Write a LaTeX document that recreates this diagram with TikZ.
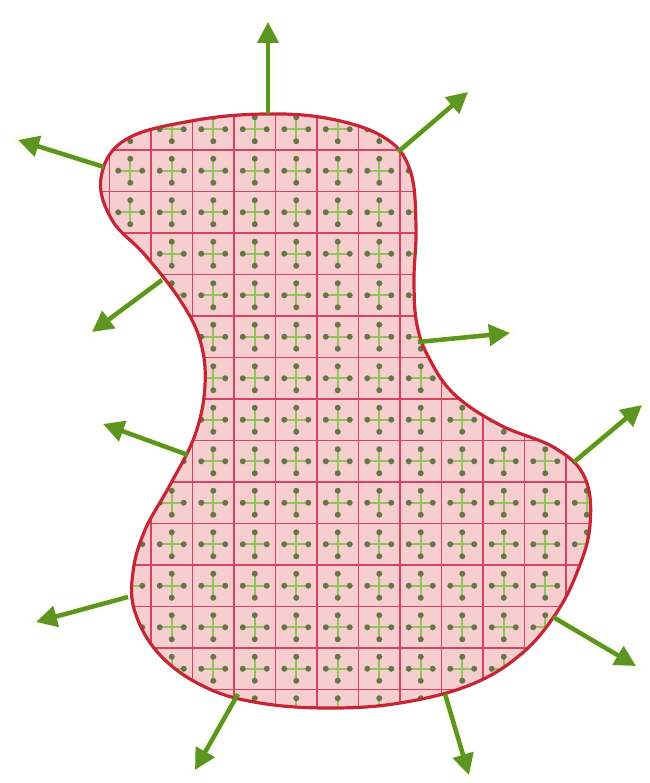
\documentclass[tikz,border=0pt]{standalone}
\usetikzlibrary{arrows.meta}

\definecolor{blobfill}{RGB}{247,206,208}
\definecolor{blobedge}{RGB}{198,38,52}
\definecolor{gridred}{RGB}{212,68,96}
\definecolor{arrowgreen}{RGB}{92,150,32}
\definecolor{crossline}{RGB}{146,196,92}
\definecolor{crossdot}{RGB}{104,116,74}

\begin{document}
\begin{tikzpicture}[
    x=1pt, y=-1pt,
    gridline/.style={
        draw=gridred,
        line width=1.6pt
    },
    crossarm/.style={
        crossline,
        line width=1.8pt
    },
    crossdot/.style={
        fill=crossdot
    },
    halo/.style={
        draw=green!8!yellow!6,
        line width=11pt,
        line cap=round
    },
    outarrow/.style={
        draw=arrowgreen,
        line width=4.5pt,
        -{Triangle[length=21pt,width=21pt]}
    }
]

\useasboundingbox (0,0) rectangle (649,783);

% blob outline
\def\blobpath{plot[smooth cycle, tension=0.65] coordinates {
    (101,178) (125,140) (191,121) (265,114) (331,119) (385,138)
    (410,170) (416,225) (414,280) (417,325) (430,360) (455,395)
    (500,425) (555,448) (585,478) (590,525) (578,570) (555,615)
    (520,655) (470,685) (400,703) (330,708) (260,703) (205,687)
    (160,655) (135,612) (133,572) (145,530) (170,485) (195,435)
    (205,385) (200,340) (180,300) (145,255) (112,220)}}

% outward arrows
\coordinate (t1) at (268,114);  \coordinate (h1) at (268,22);
\coordinate (t2) at (398,152);  \coordinate (h2) at (468,92);
\coordinate (t3) at (104,167);  \coordinate (h3) at (18,140);
\coordinate (t4) at (162,280);  \coordinate (h4) at (92,332);
\coordinate (t5) at (418,342);  \coordinate (h5) at (510,333);
\coordinate (t6) at (188,455);  \coordinate (h6) at (103,424);
\coordinate (t7) at (574,462);  \coordinate (h7) at (642,405);
\coordinate (t8) at (128,597);  \coordinate (h8) at (36,622);
\coordinate (t9) at (553,617);  \coordinate (h9) at (636,666);
\coordinate (t10) at (238,694); \coordinate (h10) at (195,770);
\coordinate (t11) at (445,694); \coordinate (h11) at (469,775);

\foreach \k in {1,...,11}
    \draw[halo] (t\k) -- (h\k);

\fill[blobfill] \blobpath;

% grid and cell crosses
\begin{scope}
    \clip \blobpath;
    \foreach \i in {0,...,12}
        \draw[gridline] ({109.5+41.5*\i},90) -- ({109.5+41.5*\i},720);
    \foreach \j in {0,...,15}
        \draw[gridline] (90,{108.5+41.5*\j}) -- (610,{108.5+41.5*\j});
    \foreach \i in {-1,...,11}
        \foreach \j in {-1,...,14} {
            \draw[crossarm] ({130.25+41.5*\i-12},{129.25+41.5*\j})
                -- ({130.25+41.5*\i+12},{129.25+41.5*\j});
            \draw[crossarm] ({130.25+41.5*\i},{129.25+41.5*\j-12})
                -- ({130.25+41.5*\i},{129.25+41.5*\j+12});
            \fill[crossdot] ({130.25+41.5*\i-12},{129.25+41.5*\j}) circle (3);
            \fill[crossdot] ({130.25+41.5*\i+12},{129.25+41.5*\j}) circle (3);
            \fill[crossdot] ({130.25+41.5*\i},{129.25+41.5*\j-12}) circle (3);
            \fill[crossdot] ({130.25+41.5*\i},{129.25+41.5*\j+12}) circle (3);
        }
\end{scope}

\draw[blobedge, line width=3.2pt] \blobpath;

\foreach \k in {1,...,11}
    \draw[outarrow] (t\k) -- (h\k);

\end{tikzpicture}
\end{document}
